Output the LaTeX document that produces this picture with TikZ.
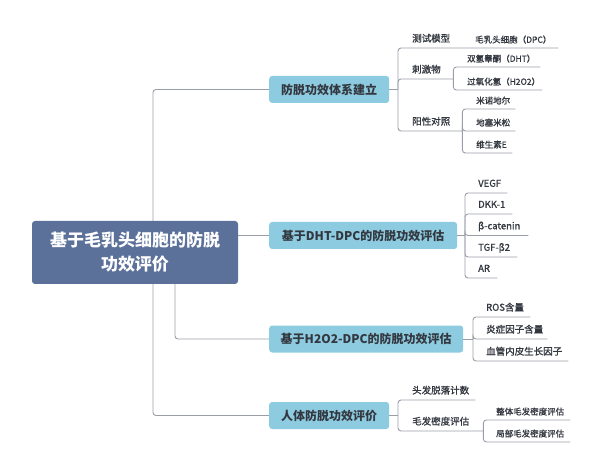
\documentclass[tikz,border=0pt]{standalone}
\usepackage{fontspec}
\setmainfont{Noto Sans CJK SC}
\newfontfamily\medfont{Noto Sans CJK SC}[FakeBold=1.2]
\usepackage{tikz}
\usetikzlibrary{backgrounds}
\definecolor{rootblue}{HTML}{5B7199}
\definecolor{boxblue}{HTML}{8DCBE0}
\definecolor{linkgray}{HTML}{9A9EA7}
\definecolor{inkgray}{HTML}{33373F}
\tikzstyle{rootbox} = [rectangle, rounded corners=3pt, fill=rootblue, text=white, align=center,
    font=\fontsize{17}{24}\selectfont\bfseries, minimum width=206pt, minimum height=63pt, inner sep=0pt]
\tikzstyle{branch} = [rectangle, rounded corners=3pt, fill=boxblue, text=inkgray, anchor=west,
    font=\fontsize{12}{14}\selectfont\bfseries, minimum height=27pt, inner sep=0pt]
\tikzstyle{twig} = [anchor=south west, inner xsep=0pt, inner ysep=5pt, text depth=1pt, align=left,
    text=inkgray, font=\fontsize{9.5}{11}\selectfont\medfont]
\tikzstyle{leaf} = [anchor=south west, inner xsep=0pt, inner ysep=4pt, text depth=1pt, align=left,
    text=inkgray, font=\fontsize{8.5}{10}\selectfont\medfont]
\tikzstyle{link} = [draw=linkgray, line width=0.9pt, rounded corners=3pt]
\newcommand{\twig}[5]{
    \node(#1) at (#2,#3) [twig, text width=#4pt] {#5};
}
\newcommand{\leafnode}[5]{
    \node(#1) at (#2,#3) [leaf, text width=#4pt] {#5};
}
\begin{document}
\begin{tikzpicture}[x=1pt,y=-1pt]
	\useasboundingbox (0,0) rectangle (600,473);
	\node(root) at (135,252.5) [rootbox] {基于毛乳头细胞的防脱\\功效评价};
	\coordinate(trunk) at (153,252.5);
	\coordinate(drop) at (175,0);
	
	\node(sys) at (269,89.5) [branch, minimum width=120pt] {防脱功效体系建立};
	\node(dht) at (269,235.5) [branch, minimum width=188pt] {基于DHT-DPC的防脱功效评估};
	\node(hoo) at (269,339) [branch, minimum width=194pt] {基于H2O2-DPC的防脱功效评估};
	\node(human) at (269,415.5) [branch, minimum width=120pt] {人体防脱功效评价};
	
	\begin{scope}[on background layer]
	\draw[link] (sys.west) -| (trunk) |- (human.west);
	\draw[link] (drop |- root.south) |- (hoo.west);
	\draw[link] (dht.west -| root.east) -- (dht.west);
	\end{scope}
	
	\coordinate(sysj) at (398,89.5);
	\twig{model}{412}{48}{50}{测试模型};
	\leafnode{dpc}{475}{48}{83}{毛乳头细胞（DPC）};
	\twig{stim}{412}{79}{41}{刺激物};
	\leafnode{dhtl}{467}{67}{73}{双氢睾酮（DHT）};
	\leafnode{hool}{467}{90}{75}{过氧化氢（H2O2）};
	\twig{ctrl}{412}{131}{50}{阳性对照};
	\leafnode{minox}{476}{109}{39}{米诺地尔};
	\leafnode{dexa}{476}{131}{39}{地塞米松};
	\leafnode{vite}{476}{153}{36}{维生素E};
	\draw[link] (sys.east) -- (sysj);
	\draw[link] (sysj) |- (model.south east) -- (dpc.south east);
	\draw[link] (sysj) |- (stim.south east);
	\draw[link] (sysj) |- (ctrl.south east);
	\draw[link] (stim.south east) |- (dhtl.south east);
	\draw[link] (stim.south east) |- (hool.south east);
	\draw[link] (ctrl.south east) |- (minox.south east);
	\draw[link] (ctrl.south east) |- (dexa.south east);
	\draw[link] (ctrl.south east) |- (vite.south east);
	
	\coordinate(dhtj) at (465,235.5);
	\twig{vegf}{478}{193}{29}{VEGF};
	\twig{dkk}{478}{214}{34}{DKK-1};
	\twig{bcat}{478}{235.5}{50}{β-catenin};
	\twig{tgf}{478}{257}{39}{TGF-β2};
	\twig{ar}{478}{278}{19}{AR};
	\draw[link] (dht.east) -- (dhtj);
	\foreach \n in {vegf,dkk,bcat,tgf,ar}
		\draw[link] (dhtj) |- (\n.south east);
	
	\coordinate(hooj) at (473,339);
	\twig{ros}{486}{317}{44}{ROS含量};
	\twig{infl}{486}{339}{61}{炎症因子含量};
	\twig{vasc}{486}{361}{82}{血管内皮生长因子};
	\draw[link] (hoo.east) -- (hooj);
	\foreach \n in {ros,infl,vasc}
		\draw[link] (hooj) |- (\n.south east);
	
	\coordinate(humanj) at (398,415.5);
	\twig{shed}{412}{400}{63}{头发脱落计数};
	\twig{dens}{412}{431}{71}{毛发密度评估};
	\leafnode{whole}{496}{420}{74}{整体毛发密度评估};
	\leafnode{local}{496}{442}{74}{局部毛发密度评估};
	\draw[link] (human.east) -- (humanj);
	\draw[link] (humanj) |- (shed.south east);
	\draw[link] (humanj) |- (dens.south east);
	\draw[link] (dens.south east) |- (whole.south east);
	\draw[link] (dens.south east) |- (local.south east);
\end{tikzpicture}
\end{document}
